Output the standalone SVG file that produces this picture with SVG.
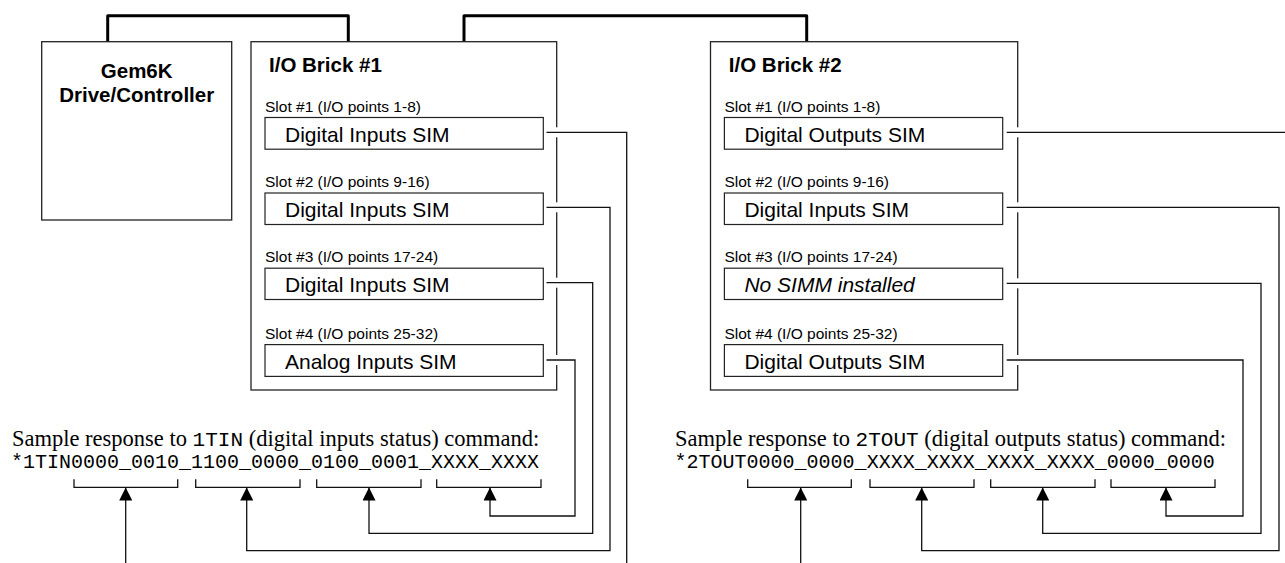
<svg xmlns="http://www.w3.org/2000/svg" width="1285" height="563" viewBox="0 0 1285 563">
<style>
  .box { fill: #fff; stroke: #222; stroke-width: 1.3; }
  .slot { fill: #fff; stroke: #222; stroke-width: 1.2; }
  .bus { fill: none; stroke: #000; stroke-width: 3; stroke-linejoin: round; }
  .wire { fill: none; stroke: #111; stroke-width: 1.3; }
  .gap { fill: none; stroke: #fff; stroke-width: 10; }
  .arrow { fill: none; stroke: #111; stroke-width: 1.3; marker-end: url(#ah); }
  .title { font-family: "Liberation Sans", Arial, sans-serif; font-weight: bold; font-size: 20.5px; fill: #000; }
  .label { font-family: "Liberation Sans", Arial, sans-serif; font-size: 15.5px; fill: #000; }
  .sim { font-family: "Liberation Sans", Arial, sans-serif; font-size: 21px; fill: #000; }
  .serif { font-family: "Liberation Serif", "Times New Roman", serif; font-size: 22.5px; fill: #000; }
  .mono { font-family: "Liberation Mono", "Courier New", monospace; font-size: 20px; fill: #000; }
  .code { font-family: "Liberation Mono", "Courier New", monospace; font-size: 21px; }
</style>
<defs>
  <marker id="ah" markerUnits="userSpaceOnUse" markerWidth="13" markerHeight="13" refX="13" refY="6.5" orient="auto" viewBox="0 0 13 13">
    <path d="M0,0 L13,6.5 L0,13 z" fill="#000"/>
  </marker>
</defs>
<rect width="1285" height="563" fill="#fff"/>

<g id="connectors">
  <path class="bus" d="M107.7,41.7 V15.7 H348.3 V41.7"/>
  <path class="bus" d="M464,41.7 V15.7 H806.7 V41.7"/>
</g>

<g id="gem6k">
  <rect class="box" x="41.7" y="41.7" width="190" height="178.3"/>
  <text class="title" x="136.7" y="77.5" text-anchor="middle">Gem6K</text>
  <text class="title" x="136.7" y="101.5" text-anchor="middle">Drive/Controller</text>
</g>

<g id="brick1">
  <rect class="box" x="251" y="41.7" width="305.7" height="348.3"/>
  <text class="title" x="269" y="72.3">I/O Brick #1</text>
  <text class="label" x="265" y="111.5">Slot #1 (I/O points 1-8)</text>
  <rect class="slot" x="265" y="117.5" width="278.3" height="31.7"/>
  <text class="sim" x="285" y="141.7">Digital Inputs SIM</text>
  <text class="label" x="265" y="187">Slot #2 (I/O points 9-16)</text>
  <rect class="slot" x="265" y="193" width="278.3" height="31.5"/>
  <text class="sim" x="285" y="217.4">Digital Inputs SIM</text>
  <text class="label" x="265" y="262.3">Slot #3 (I/O points 17-24)</text>
  <rect class="slot" x="265" y="268.2" width="278.3" height="31.3"/>
  <text class="sim" x="285" y="292.4">Digital Inputs SIM</text>
  <text class="label" x="265" y="338.6">Slot #4 (I/O points 25-32)</text>
  <rect class="slot" x="265" y="344.6" width="278.3" height="31.8"/>
  <text class="sim" x="285" y="368.9">Analog Inputs SIM</text>
</g>

<g id="brick2">
  <rect class="box" x="710.5" y="41.7" width="307.2" height="348.3"/>
  <text class="title" x="728.8" y="72.3">I/O Brick #2</text>
  <text class="label" x="724.4" y="111.5">Slot #1 (I/O points 1-8)</text>
  <rect class="slot" x="724.4" y="117.5" width="278.3" height="31.7"/>
  <text class="sim" x="744.4" y="141.7">Digital Outputs SIM</text>
  <text class="label" x="724.4" y="187">Slot #2 (I/O points 9-16)</text>
  <rect class="slot" x="724.4" y="193" width="278.3" height="31.5"/>
  <text class="sim" x="744.4" y="217.4">Digital Inputs SIM</text>
  <text class="label" x="724.4" y="262.3">Slot #3 (I/O points 17-24)</text>
  <rect class="slot" x="724.4" y="268.2" width="278.3" height="31.3"/>
  <text class="sim" x="744.4" y="292.4" font-style="italic">No SIMM installed</text>
  <text class="label" x="724.4" y="338.6">Slot #4 (I/O points 25-32)</text>
  <rect class="slot" x="724.4" y="344.6" width="278.3" height="31.8"/>
  <text class="sim" x="744.4" y="368.9">Digital Outputs SIM</text>
</g>

<g id="response1">
  <text class="serif" x="12" y="446">Sample response to <tspan class="code">1TIN</tspan> (digital inputs status) command:</text>
  <text class="mono" x="11" y="468.3">*1TIN0000_0010_1100_0000_0100_0001_XXXX_XXXX</text>
  <path class="wire" d="M74,479.3 V487.3 H177.7 V479.3"/>
  <path class="wire" d="M195.7,479.3 V487.3 H300 V479.3"/>
  <path class="wire" d="M316.7,479.3 V487.3 H421 V479.3"/>
  <path class="wire" d="M436.7,479.3 V487.3 H541 V479.3"/>
</g>

<g id="response2">
  <text class="serif" x="675" y="446">Sample response to <tspan class="code">2TOUT</tspan> (digital outputs status) command:</text>
  <text class="mono" x="674.6" y="468.3">*2TOUT0000_0000_XXXX_XXXX_XXXX_XXXX_0000_0000</text>
  <path class="wire" d="M747.7,479.3 V487.3 H851.3 V479.3"/>
  <path class="wire" d="M870,479.3 V487.3 H974 V479.3"/>
  <path class="wire" d="M990.7,479.3 V487.3 H1095 V479.3"/>
  <path class="wire" d="M1111,479.3 V487.3 H1215 V479.3"/>
</g>

<g id="slot-connectors">
  <path class="gap" d="M546.5,132.3 H566"/>
  <path class="gap" d="M546.5,207.3 H566"/>
  <path class="gap" d="M546.5,282.7 H566"/>
  <path class="gap" d="M546.5,360 H566"/>
  <path class="gap" d="M1006.7,132.3 H1027"/>
  <path class="gap" d="M1006.7,207.3 H1027"/>
  <path class="gap" d="M1006.7,283.3 H1027"/>
  <path class="gap" d="M1006.7,360 H1027"/>

  <path class="wire" d="M546.5,132.3 H626.7 V563"/>
  <path class="arrow" d="M546.5,207.3 H610 V550.7 H246.7 V487.5"/>
  <path class="arrow" d="M546.5,282.7 H592.7 V533.3 H369 V487.5"/>
  <path class="arrow" d="M546.5,360 H575 V516 H490 V487.5"/>
  <path class="arrow" d="M125.7,563 V487.5"/>

  <path class="wire" d="M1006.7,132.3 H1285"/>
  <path class="arrow" d="M1006.7,207.3 H1279 V550.7 H921.7 V487.5"/>
  <path class="arrow" d="M1006.7,283.3 H1261 V533.3 H1042.7 V487.5"/>
  <path class="arrow" d="M1006.7,360 H1243 V516 H1166 V487.5"/>
  <path class="arrow" d="M800.7,563 V487.5"/>
</g>
</svg>
